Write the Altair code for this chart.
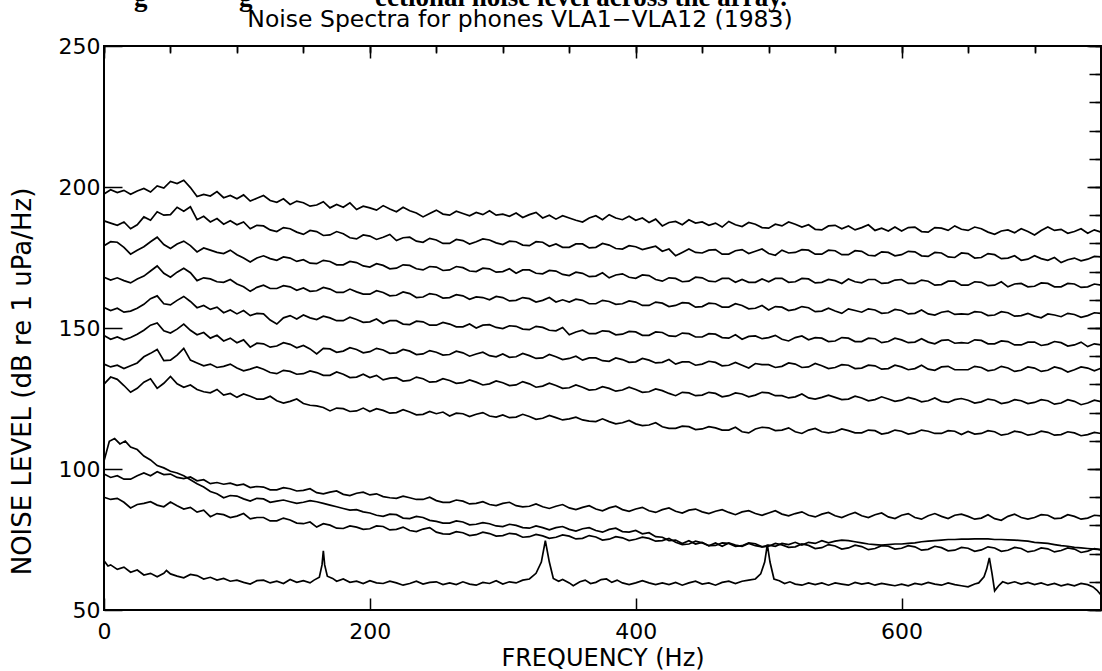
import altair as alt
import pandas as pd

# ---------------- data (dB re 1 uPa/Hz) ----------------
FREQ = list(range(0, 751, 5))  # common frequency grid (Hz), 151 points

LINE1 = [197.5, 199.0, 198.0, 198.8, 197.4, 198.6, 199.5, 198.2, 200.4, 199.6,
         202.0, 201.2, 202.4, 199.8, 196.6, 197.4, 196.8, 198.4, 196.2, 197.0,
         195.8, 197.2, 195.0, 196.0, 197.0, 195.2, 194.6, 195.8, 193.8, 195.0,
         194.4, 193.2, 193.6, 194.8, 192.6, 193.8, 192.8, 194.4, 192.0, 193.2,
         192.6, 191.8, 193.4, 192.2, 191.2, 192.8, 191.6, 190.8, 189.4, 190.6,
         191.8, 190.4, 190.0, 191.4, 190.6, 189.8, 191.0, 190.2, 191.6, 190.0,
         190.4, 189.6, 190.8, 189.2, 190.2, 191.0, 189.0, 190.0, 188.6, 189.8,
         189.0, 188.2, 187.6, 189.0, 189.8, 188.4, 190.2, 189.0, 188.4, 189.6,
         188.2, 189.0, 187.4, 188.6, 186.2, 187.4, 187.8, 186.6, 188.4, 187.2,
         187.6, 186.4, 187.2, 185.8, 187.8, 186.6, 186.0, 187.4, 186.8, 185.6,
         185.4, 186.8, 186.2, 187.6, 186.8, 185.8, 186.6, 185.0, 184.8, 186.2,
         186.4, 185.2, 186.2, 184.8, 185.6, 186.6, 184.6, 185.4, 184.4, 185.8,
         184.4, 185.6, 185.8, 184.2, 184.0, 185.6, 185.4, 184.6, 186.2, 185.0,
         184.6, 185.8, 185.2, 184.0, 183.2, 184.4, 184.8, 183.8, 185.2, 184.2,
         183.0, 184.6, 185.8, 184.6, 185.0, 183.6, 184.2, 185.2, 183.6, 184.8,
         184.0]
LINE2 = [188.0, 187.2, 186.4, 187.6, 185.2, 186.6, 189.4, 188.2, 191.2, 190.0,
         190.2, 192.8, 191.4, 193.0, 188.4, 189.6, 187.6, 188.8, 186.8, 188.0,
         186.6, 187.6, 185.2, 186.4, 186.2, 184.8, 184.2, 185.6, 185.2, 184.0,
         183.2, 184.6, 184.2, 182.8, 183.0, 184.2, 183.4, 182.0, 181.6, 183.0,
         182.6, 181.4, 182.2, 183.2, 181.0, 182.0, 182.2, 180.8, 180.4, 181.8,
         181.2, 180.0, 180.0, 181.4, 181.0, 179.8, 180.6, 181.6, 181.2, 180.2,
         179.6, 180.8, 180.6, 179.4, 179.2, 180.6, 180.4, 179.0, 179.8, 178.6,
         178.6, 179.8, 179.8, 178.4, 178.6, 180.0, 179.4, 178.2, 178.0, 179.2,
         178.8, 177.8, 178.4, 179.0, 177.2, 178.0, 175.6, 176.8, 178.0, 176.8,
         176.6, 177.6, 177.8, 176.2, 176.2, 177.4, 177.8, 176.4, 177.2, 178.0,
         176.4, 175.8, 177.6, 176.6, 176.8, 177.8, 177.6, 176.2, 176.2, 177.6,
         177.4, 176.0, 176.0, 177.4, 177.2, 175.8, 175.6, 177.0, 176.8, 175.6,
         176.0, 177.2, 177.0, 175.6, 175.4, 176.8, 176.6, 175.2, 175.0, 176.6,
         176.4, 174.8, 175.0, 176.4, 176.0, 174.6, 174.8, 175.6, 174.0, 174.4,
         175.6, 174.6, 174.0, 175.0, 173.2, 174.2, 174.8, 173.8, 174.4, 175.4,
         175.2]
LINE3 = [179.2, 180.6, 180.4, 178.6, 176.2, 177.6, 178.8, 180.6, 182.2, 179.6,
         178.2, 179.8, 180.8, 179.2, 177.0, 178.4, 177.6, 176.8, 176.4, 177.6,
         176.0, 174.8, 173.4, 174.8, 175.6, 174.6, 174.0, 175.2, 174.8, 173.6,
         174.2, 173.0, 172.8, 174.0, 173.6, 172.4, 172.4, 173.6, 173.2, 172.0,
         171.6, 172.8, 172.2, 171.0, 171.2, 172.4, 172.2, 171.0, 170.6, 171.8,
         171.6, 170.4, 170.6, 171.8, 171.4, 170.2, 170.0, 171.2, 171.0, 169.8,
         170.0, 171.0, 169.4, 170.6, 170.6, 169.4, 169.2, 170.4, 170.2, 169.0,
         168.6, 169.8, 169.4, 168.2, 168.4, 169.6, 167.8, 168.8, 169.2, 168.0,
         167.6, 168.8, 168.6, 167.2, 166.6, 167.8, 167.6, 166.4, 166.6, 168.0,
         167.8, 166.6, 166.4, 167.6, 167.6, 166.2, 167.2, 166.2, 166.2, 167.4,
         166.4, 167.6, 167.6, 166.2, 166.4, 167.6, 167.4, 166.0, 166.2, 167.2,
         166.8, 165.8, 167.4, 166.4, 166.0, 167.2, 167.2, 165.8, 166.0, 167.0,
         167.2, 165.8, 165.8, 167.0, 166.6, 165.2, 165.4, 166.6, 166.6, 165.2,
         165.2, 166.4, 166.2, 165.0, 165.2, 166.4, 164.6, 165.6, 165.8, 164.6,
         164.8, 166.0, 165.8, 164.6, 164.6, 165.8, 165.6, 164.4, 164.6, 165.6,
         165.2]
LINE4 = [168.0, 167.0, 167.8, 166.8, 166.0, 167.4, 168.4, 170.2, 172.0, 169.4,
         168.0, 169.8, 171.2, 169.6, 166.8, 167.8, 167.4, 166.4, 166.2, 167.2,
         165.6, 164.6, 163.0, 164.4, 165.2, 164.0, 164.0, 165.0, 164.6, 163.4,
         164.2, 163.0, 163.2, 164.4, 163.8, 162.6, 162.6, 163.8, 162.8, 162.0,
         162.0, 163.2, 162.6, 161.4, 161.6, 162.8, 162.2, 160.8, 161.0, 162.2,
         161.8, 160.6, 160.8, 161.8, 161.4, 160.2, 161.0, 160.8, 160.0, 161.2,
         160.8, 159.6, 159.8, 160.8, 160.4, 159.2, 159.8, 160.8, 159.2, 160.0,
         159.2, 160.2, 159.8, 158.6, 158.6, 159.8, 159.4, 158.4, 158.6, 159.6,
         159.2, 158.0, 158.0, 159.2, 158.8, 157.6, 158.0, 159.0, 158.8, 157.4,
         157.6, 158.8, 158.6, 157.4, 157.4, 158.6, 158.0, 156.8, 157.0, 158.0,
         156.4, 157.6, 157.4, 156.2, 156.6, 157.6, 157.2, 155.8, 156.0, 157.0,
         156.0, 155.2, 156.8, 156.2, 155.6, 156.8, 156.4, 155.2, 155.4, 156.6,
         156.2, 155.0, 155.2, 156.4, 155.0, 154.6, 155.6, 156.0, 154.8, 155.0,
         154.8, 155.8, 155.6, 154.4, 154.6, 155.8, 155.4, 154.2, 154.4, 155.2,
         154.2, 153.6, 155.0, 154.6, 154.0, 155.2, 154.8, 153.8, 154.4, 155.4,
         155.2]
LINE5 = [157.3, 156.2, 157.0, 155.6, 156.0, 157.0, 158.4, 160.4, 161.4, 158.6,
         158.2, 159.8, 161.2, 159.4, 157.2, 158.0, 156.6, 157.4, 155.4, 156.4,
         155.0, 156.2, 154.4, 155.2, 155.0, 152.8, 151.4, 153.6, 154.4, 153.2,
         154.6, 153.6, 153.0, 154.2, 153.6, 152.6, 152.6, 153.8, 153.0, 152.0,
         152.2, 153.2, 151.6, 152.6, 152.6, 151.4, 151.2, 152.4, 152.2, 151.0,
         151.0, 152.0, 151.4, 150.4, 150.4, 151.4, 150.0, 151.0, 151.2, 150.2,
         149.8, 150.8, 150.6, 149.6, 149.4, 150.6, 150.2, 149.2, 149.0, 150.2,
         147.6, 148.6, 149.2, 148.0, 148.0, 149.0, 148.8, 147.6, 147.8, 148.8,
         148.6, 147.4, 147.4, 148.6, 148.4, 147.2, 147.0, 148.2, 148.0, 146.8,
         146.8, 148.0, 147.8, 146.6, 146.4, 147.6, 146.0, 147.0, 147.2, 146.2,
         146.6, 147.4, 146.0, 145.4, 146.6, 147.2, 145.8, 146.6, 146.4, 145.2,
         145.4, 146.6, 146.4, 145.2, 145.2, 146.4, 146.2, 144.8, 145.2, 146.4,
         145.8, 144.8, 145.0, 146.2, 145.0, 144.4, 145.6, 145.8, 144.6, 144.8,
         144.6, 145.8, 145.6, 144.4, 144.4, 145.4, 145.2, 144.0, 144.0, 145.0,
         145.0, 143.8, 144.2, 145.2, 144.8, 143.6, 144.0, 145.0, 143.4, 144.4,
         144.0]
LINE6 = [147.3, 146.0, 146.8, 145.8, 146.6, 147.8, 149.2, 151.0, 151.8, 149.0,
         148.2, 149.6, 151.4, 149.2, 147.6, 148.4, 146.4, 147.4, 145.4, 146.4,
         144.8, 145.8, 143.2, 144.6, 144.4, 143.2, 143.6, 144.8, 144.2, 143.0,
         143.8, 142.6, 140.8, 142.8, 142.6, 141.4, 141.8, 143.0, 142.4, 141.2,
         141.6, 142.8, 142.2, 141.0, 141.2, 142.4, 141.8, 140.6, 140.8, 142.0,
         141.4, 140.4, 140.6, 141.8, 141.2, 140.0, 140.8, 141.4, 140.2, 139.8,
         140.8, 139.6, 139.8, 141.0, 140.2, 139.2, 139.4, 140.6, 139.8, 138.8,
         139.2, 140.0, 138.6, 139.4, 139.4, 138.4, 138.2, 139.4, 138.8, 137.8,
         138.0, 139.2, 138.6, 137.6, 137.8, 138.8, 137.2, 138.0, 138.0, 136.8,
         137.2, 138.2, 137.8, 136.6, 136.8, 137.8, 136.8, 135.8, 137.4, 137.0,
         137.0, 136.0, 136.4, 137.6, 137.2, 136.0, 136.2, 137.4, 136.6, 135.6,
         136.0, 137.0, 136.8, 135.6, 135.8, 136.8, 136.6, 135.4, 135.6, 136.8,
         136.2, 135.2, 135.6, 136.8, 135.4, 135.0, 136.2, 136.4, 135.2, 135.2,
         135.2, 136.4, 136.0, 134.8, 135.2, 136.4, 135.8, 134.6, 135.0, 136.2,
         135.8, 134.6, 135.0, 136.2, 135.6, 134.4, 135.2, 136.2, 135.8, 134.8,
         135.7]
LINE7 = [137.2, 136.2, 136.8, 135.6, 136.6, 137.6, 139.8, 141.0, 142.4, 138.4,
         138.6, 140.4, 142.8, 138.6, 137.6, 136.6, 137.2, 136.0, 136.4, 137.2,
         135.8, 134.8, 135.4, 136.2, 135.4, 134.2, 133.8, 135.0, 134.6, 133.6,
         133.8, 134.8, 134.2, 133.2, 133.2, 134.4, 133.6, 132.4, 132.6, 133.6,
         132.4, 133.2, 131.6, 132.2, 132.4, 131.2, 131.4, 132.6, 132.0, 130.8,
         131.0, 132.0, 131.4, 130.4, 130.6, 131.6, 130.8, 129.8, 130.2, 131.2,
         130.6, 129.6, 129.8, 131.0, 130.2, 129.0, 129.4, 130.4, 129.6, 128.6,
         128.8, 129.8, 129.0, 128.0, 128.2, 129.2, 128.6, 127.6, 128.0, 129.0,
         128.2, 127.2, 127.4, 128.4, 127.8, 126.8, 126.0, 127.2, 127.0, 126.0,
         126.2, 127.2, 126.8, 125.6, 126.0, 127.0, 126.6, 125.6, 126.2, 127.2,
         127.0, 126.0, 126.0, 125.2, 125.6, 126.6, 125.2, 124.8, 125.4, 126.2,
         125.4, 124.6, 124.8, 125.8, 125.2, 124.2, 124.6, 125.6, 124.8, 124.0,
         124.4, 125.4, 124.8, 123.8, 124.2, 125.2, 124.0, 123.6, 124.6, 125.0,
         124.4, 123.4, 123.8, 124.8, 124.4, 123.2, 123.6, 124.6, 124.2, 123.2,
         123.6, 124.6, 124.2, 123.0, 123.4, 124.6, 124.0, 122.8, 123.4, 124.4,
         123.9]
LINE8 = [130.1, 132.6, 131.8, 129.6, 127.2, 128.6, 130.8, 132.0, 128.6, 130.4,
         132.8, 130.2, 129.0, 129.8, 128.2, 127.4, 127.0, 128.2, 126.2, 126.8,
         125.4, 126.6, 125.8, 124.8, 124.8, 125.8, 124.2, 123.4, 124.0, 124.8,
         123.2, 122.6, 122.4, 121.8, 120.6, 121.6, 121.4, 120.4, 120.6, 121.6,
         120.4, 121.4, 120.8, 119.8, 120.0, 121.0, 120.2, 119.2, 119.4, 120.4,
         119.6, 120.2, 118.8, 119.8, 119.6, 118.6, 119.4, 120.0, 118.8, 118.4,
         119.2, 118.2, 118.4, 119.4, 118.6, 117.6, 118.0, 119.0, 118.2, 117.4,
         117.8, 118.4, 117.4, 117.0, 116.8, 117.8, 116.8, 116.0, 116.4, 117.2,
         116.0, 115.4, 115.6, 116.4, 115.0, 114.4, 114.4, 115.2, 115.0, 114.0,
         114.2, 115.0, 114.6, 113.8, 113.8, 114.8, 113.2, 112.8, 114.2, 114.8,
         114.6, 113.6, 113.8, 114.6, 113.2, 112.6, 113.8, 114.4, 113.2, 112.8,
         113.2, 114.2, 113.6, 112.8, 112.8, 113.8, 113.6, 112.4, 112.8, 113.8,
         113.4, 112.4, 112.8, 113.8, 113.4, 112.6, 112.6, 113.6, 113.4, 112.2,
         113.3, 112.4, 112.6, 113.6, 113.2, 112.0, 112.4, 113.4, 113.0, 112.0,
         112.4, 113.4, 113.0, 112.0, 112.2, 113.2, 112.8, 111.8, 112.2, 113.0,
         112.6]
LINE9 = [98.2, 97.0, 97.6, 96.4, 96.4, 97.6, 98.6, 97.6, 99.0, 98.0,
         98.2, 97.0, 96.6, 97.2, 95.8, 96.2, 94.8, 95.2, 94.6, 95.0,
         94.2, 94.6, 93.4, 93.8, 93.6, 92.6, 92.6, 93.4, 93.0, 92.2,
         92.4, 93.0, 91.6, 91.2, 91.8, 92.2, 91.0, 90.6, 91.4, 91.8,
         90.8, 91.2, 90.2, 89.8, 89.6, 90.4, 89.8, 89.2, 89.2, 90.0,
         88.8, 88.2, 88.2, 89.0, 88.6, 87.6, 87.8, 88.4, 87.4, 87.0,
         87.8, 88.2, 87.0, 86.6, 86.8, 87.6, 86.6, 86.0, 86.8, 87.4,
         86.2, 85.6, 86.4, 87.0, 85.8, 85.2, 86.2, 86.8, 85.6, 85.0,
         85.8, 86.4, 85.2, 84.6, 85.6, 86.2, 85.0, 84.4, 85.4, 85.8,
         84.8, 84.2, 85.0, 85.6, 84.6, 83.8, 84.8, 85.2, 84.2, 83.6,
         84.4, 85.2, 84.0, 83.4, 84.2, 84.8, 83.6, 83.0, 84.0, 84.6,
         83.4, 82.8, 83.8, 84.6, 83.4, 82.8, 83.8, 84.4, 83.0, 82.4,
         83.6, 84.2, 82.8, 82.2, 83.4, 84.2, 83.2, 82.4, 83.6, 84.0,
         83.2, 82.2, 82.6, 83.8, 82.4, 81.8, 83.2, 84.0, 82.8, 82.2,
         82.8, 83.8, 83.6, 82.4, 82.6, 83.8, 83.2, 82.2, 82.6, 83.6,
         83.4]
LINE10_FREQ = [0, 4, 8, 12, 16, 20, 25, 30, 35, 40, 45, 50] + list(range(55, 751, 5))
LINE10 = [102.8, 109.8, 110.8, 108.9, 109.9, 107.8, 106.9, 104.6, 103.2, 101.2, 100.4, 99.2,
          98.6, 97.6, 96.2, 94.8, 93.6, 92.0, 91.2, 89.8, 90.6,
          90.4, 89.4, 88.6, 89.6, 89.4, 88.2, 88.6, 89.0, 88.4, 87.8,
          88.2, 88.8, 88.4, 87.8, 87.2, 86.6, 86.0, 85.4, 85.6, 84.8,
          84.4, 83.6, 83.2, 84.0, 83.8, 82.6, 82.4, 83.2, 82.8, 81.8,
          81.4, 80.8, 80.8, 81.6, 81.2, 80.2, 80.4, 81.0, 80.6, 79.8,
          79.6, 80.4, 80.0, 79.2, 79.0, 79.8, 79.2, 78.4, 79.2, 79.6,
          78.6, 78.0, 78.8, 79.2, 78.2, 77.6, 78.6, 79.0, 77.8, 77.6,
          78.2, 77.0, 77.4, 76.0, 75.8, 74.6, 74.8, 73.6, 74.6, 73.4,
          74.0, 72.8, 73.8, 72.6, 73.8, 73.0, 72.6, 73.6, 72.8, 72.4,
          73.0, 72.6, 73.6, 73.2, 74.0, 73.0, 74.0, 73.6, 74.6, 73.8,
          74.4, 74.8, 74.6, 74.2, 73.8, 73.4, 73.2, 73.0, 73.2, 73.4,
          73.4, 73.6, 73.8, 74.2, 74.4, 74.6, 74.8, 75.0, 75.0, 75.1,
          75.1, 75.2, 75.2, 75.2, 75.0, 75.0, 74.9, 74.8, 74.6, 74.4,
          74.0, 73.8, 73.6, 73.2, 72.8, 72.6, 72.2, 72.0, 71.8, 71.6,
          71.4]
LINE11 = [90.0, 89.2, 89.6, 88.2, 86.2, 87.4, 87.8, 88.4, 87.2, 86.6,
          88.3, 87.0, 85.8, 86.4, 84.7, 85.4, 83.1, 84.2, 83.8, 82.8,
          83.3, 84.2, 82.3, 82.8, 82.8, 81.6, 81.6, 82.6, 81.9, 80.8,
          80.6, 81.2, 79.4, 80.6, 80.1, 79.0, 78.9, 79.8, 79.4, 78.6,
          78.8, 79.8, 79.6, 78.4, 78.6, 79.4, 78.2, 77.8, 78.7, 79.2,
          77.6, 77.0, 76.9, 77.8, 77.4, 76.4, 76.7, 77.6, 77.1, 76.2,
          76.4, 77.2, 76.9, 75.8, 76.0, 76.8, 76.3, 75.4, 75.8, 76.6,
          76.2, 75.2, 75.4, 76.4, 75.9, 74.8, 75.1, 76.0, 75.6, 74.6,
          75.1, 75.8, 75.4, 74.4, 74.6, 75.4, 74.0, 73.2, 73.4, 74.4,
          73.8, 72.8, 72.9, 73.8, 73.6, 72.6, 72.8, 73.8, 73.5, 72.4,
          72.6, 73.6, 73.1, 72.2, 72.4, 73.4, 72.9, 71.8, 72.1, 73.2,
          72.7, 71.6, 72.0, 73.0, 72.5, 71.4, 71.8, 72.8, 72.6, 71.6,
          71.9, 72.8, 72.4, 71.2, 71.5, 72.6, 72.1, 71.0, 71.2, 72.2,
          71.9, 70.8, 71.3, 72.4, 72.0, 70.8, 71.2, 72.2, 71.8, 70.6,
          71.0, 72.0, 71.7, 70.6, 71.1, 72.0, 71.6, 70.4, 70.9, 71.8,
          71.3]
# bottom phone: (Hz, dB) with its narrow lines near 167, 333, 500 and 667 Hz
LINE12_POINTS = [
    (0, 67.5), (3, 65.6), (5, 66.0), (10, 64.4), (15, 65.2), (20, 63.4), (25, 64.2),
    (30, 62.4), (35, 63.0), (40, 61.8), (45, 63.0), (47, 64.0), (50, 62.8), (55, 62.0),
    (60, 61.4), (65, 62.6), (70, 62.2), (75, 61.0), (80, 61.6), (85, 60.6), (90, 61.2),
    (95, 60.2), (100, 60.6), (105, 59.8), (110, 59.2), (115, 60.4), (120, 60.6),
    (125, 59.6), (130, 60.2), (135, 59.4), (140, 60.8), (145, 59.8), (150, 60.4),
    (155, 59.6), (158, 60.6), (162, 61.6), (164, 66.0), (165, 71.0), (166, 66.0),
    (168, 62.0), (172, 61.2), (175, 60.2), (180, 61.0), (185, 59.8), (190, 60.2),
    (195, 59.4), (200, 60.4), (205, 59.6), (210, 59.4), (215, 60.2), (220, 59.6),
    (225, 58.8), (230, 59.4), (235, 60.2), (240, 59.2), (245, 59.8), (250, 60.0),
    (255, 59.0), (260, 59.6), (265, 59.0), (270, 60.0), (275, 59.2), (280, 58.8),
    (285, 59.8), (290, 59.4), (295, 60.4), (300, 59.2), (305, 60.0), (310, 59.6),
    (315, 60.6), (320, 61.0), (325, 63.0), (329, 67.0), (332, 74.6), (335, 67.0),
    (338, 61.2), (342, 60.2), (345, 60.8), (350, 59.6), (353, 58.6), (358, 60.0),
    (362, 60.6), (366, 59.4), (370, 59.8), (374, 60.8), (378, 61.0), (382, 59.8),
    (386, 60.6), (390, 59.6), (395, 59.0), (400, 59.6), (405, 60.4), (410, 59.6),
    (415, 59.0), (420, 59.6), (425, 59.0), (430, 59.8), (435, 58.8), (440, 59.6),
    (445, 60.2), (450, 59.2), (455, 59.6), (460, 58.8), (465, 59.8), (470, 60.2),
    (475, 59.4), (480, 60.2), (485, 60.6), (490, 61.0), (494, 62.8), (497, 67.0),
    (499, 73.2), (501, 67.0), (504, 61.0), (508, 60.4), (512, 59.4), (516, 60.0),
    (520, 59.2), (525, 58.8), (530, 59.6), (535, 59.0), (540, 59.6), (545, 58.8),
    (550, 59.6), (555, 59.2), (560, 58.8), (565, 59.8), (570, 59.2), (575, 59.6),
    (580, 58.8), (585, 59.4), (590, 59.0), (595, 58.6), (600, 59.2), (605, 58.6),
    (610, 59.4), (615, 59.0), (620, 59.8), (625, 59.2), (630, 58.8), (635, 59.6),
    (640, 59.0), (645, 58.6), (650, 58.2), (655, 59.2), (658, 59.6), (662, 61.8),
    (664, 64.5), (666, 68.5), (668, 63.0), (670, 56.8), (673, 58.6), (676, 60.0),
    (680, 59.4), (685, 60.0), (690, 59.2), (695, 59.8), (700, 59.0), (705, 59.6),
    (710, 58.8), (715, 59.4), (720, 58.6), (725, 59.2), (730, 58.6), (735, 59.4),
    (740, 59.0), (744, 58.2), (747, 57.0), (750, 55.3),
]

X_MAJOR = [0, 200, 400, 600]
X_MINOR = list(range(0, 751, 50))
Y_MAJOR = [50, 100, 150, 200, 250]
Y_MINOR = list(range(50, 251, 10))

TITLE = ["Noise Spectra for phones VLA1\u2212VLA12 (1983)"]
X_TITLE = "FREQUENCY (Hz)"
Y_TITLE = "NOISE LEVEL (dB re 1 uPa/Hz)"
CAPTION_PARTS = ["g", "g", "ectional noise level across the array."]

# ---------------- build long table ----------------
series = [
    ("VLA1", FREQ, LINE1), ("VLA2", FREQ, LINE2), ("VLA3", FREQ, LINE3),
    ("VLA4", FREQ, LINE4), ("VLA5", FREQ, LINE5), ("VLA6", FREQ, LINE6),
    ("VLA7", FREQ, LINE7), ("VLA8", FREQ, LINE8), ("VLA9", FREQ, LINE9),
    ("VLA10", LINE10_FREQ, LINE10), ("VLA11", FREQ, LINE11),
    ("VLA12", [p[0] for p in LINE12_POINTS], [p[1] for p in LINE12_POINTS]),
]
rows = []
for name, fr, vals in series:
    if len(fr) != len(vals):
        raise ValueError(f"{name}: {len(fr)} freqs vs {len(vals)} values")
    for i, (f, v) in enumerate(zip(fr, vals)):
        rows.append({"series": name, "freq": f, "level": v, "order": i})
df = pd.DataFrame(rows)

FONT = "DejaVu Sans"
W, H = 997, 564
xs = alt.Scale(domain=[0, 750], nice=False, zero=False)
ys = alt.Scale(domain=[50, 250], nice=False, zero=False)


def ax(**kw):
    base = dict(domain=False, grid=False, tickColor="black", tickWidth=1.5,
                labelColor="black", titleColor="black", labelFlush=False)
    base.update(kw)
    return alt.Axis(**base)


base = alt.Chart(df)

lines = base.mark_line(color="black", strokeWidth=1.7).encode(
    x=alt.X("freq:Q", scale=xs, axis=ax(
        values=X_MAJOR, tickSize=12, offset=-12, labelFont=FONT, labelFontSize=22,
        labelPadding=11, title=X_TITLE, titleFont=FONT, titleFontSize=24,
        titleFontWeight="normal", titlePadding=4)),
    y=alt.Y("level:Q", scale=ys, axis=ax(
        values=Y_MAJOR, tickSize=18, offset=-18, labelFont=FONT, labelFontSize=22,
        labelPadding=4, title=Y_TITLE, titleFont=FONT, titleFontSize=26,
        titleFontWeight="normal", titleX=-100, titleY=335, titleAngle=270,
        titleAlign="center", titleBaseline="middle")),
    detail="series:N",
    order="order:Q",
)


def ghost(xaxis, yaxis):
    return base.mark_line(strokeOpacity=0).encode(
        x=alt.X("freq:Q", scale=xs, axis=xaxis),
        y=alt.Y("level:Q", scale=ys, axis=yaxis),
        detail="series:N",
        order="order:Q",
    )


g_minor = ghost(
    ax(values=X_MINOR, tickSize=7, offset=-7, labels=False, title=None),
    ax(values=Y_MINOR, tickSize=12, offset=-12, labels=False, title=None),
)
g_top_major = ghost(
    ax(orient="top", values=X_MAJOR, tickSize=12, offset=-12, labels=False, title=None),
    ax(orient="right", values=Y_MAJOR, tickSize=14, offset=-14, labels=False, title=None),
)
g_top_minor = ghost(
    ax(orient="top", values=X_MINOR, tickSize=6, offset=-6, labels=False, title=None),
    ax(orient="right", values=Y_MINOR, tickSize=6, offset=-6, labels=False, title=None),
)


def caption(i, px):
    return alt.Chart(pd.DataFrame({"t": [CAPTION_PARTS[i]]})).mark_text(
        font="Liberation Serif", fontSize=27, fontWeight="bold", align="left",
        baseline="alphabetic", color="black",
    ).encode(text="t:N", x=alt.value(px), y=alt.value(-40))


title_layer = alt.Chart(pd.DataFrame({"t": TITLE})).mark_text(
    font=FONT, fontSize=23.5, align="center", baseline="alphabetic", color="black",
).encode(text="t:N", x=alt.value(416), y=alt.value(-19))

chart = alt.layer(
    lines, g_minor, g_top_major, g_top_minor,
    caption(0, 30), caption(1, 135), caption(2, 271), title_layer,
).resolve_axis(
    x="independent", y="independent"
).properties(
    width=W, height=H,
    autosize=alt.AutoSizeParams(type="none"),
    padding={"left": 104, "top": 46, "right": 1, "bottom": 61},
    background="white",
).configure_view(stroke="black", strokeWidth=2)

chart.save("out.html", embed_options={"renderer": "svg", "actions": False})
